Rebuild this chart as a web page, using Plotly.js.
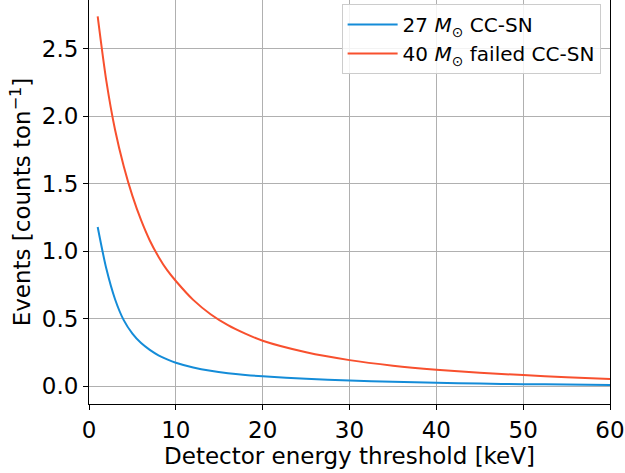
<!DOCTYPE html>
<html>
<head>
<meta charset="utf-8">
<script src="https://cdn.plot.ly/plotly-3.0.1.min.js"></script>
<style>html,body{margin:0;padding:0;background:#fff;}#chart{width:625px;height:473px;}</style>
</head>
<body>
<div id="chart"></div>
<script>
// Detector energy threshold [keV]
const thresholds = [1,2,3,4,5,6,7,8,9,10,12,14,16,18,20,25,30,35,40,45,50,55,60];
// 27 Msun CC-SN events [counts/ton]
const ccsn27 = [1.18,0.87,0.645,0.49,0.39,0.32,0.27,0.23,0.20,0.175,0.14,0.115,0.097,0.084,0.074,0.056,0.043,0.033,0.026,0.020,0.016,0.013,0.010];
// 40 Msun failed CC-SN events [counts/ton]
const failed40 = [2.74,2.26,1.90,1.63,1.41,1.23,1.08,0.96,0.86,0.78,0.64,0.534,0.453,0.39,0.337,0.252,0.194,0.153,0.123,0.100,0.083,0.067,0.055];
const seriesNames = ['27 <i>M</i><sub>⊙</sub> CC-SN', '40 <i>M</i><sub>⊙</sub> failed CC-SN'];
const yTicks = [0, 0.5, 1.0, 1.5, 2.0, 2.5];
const xTicks = [0, 10, 20, 30, 40, 50, 60];

const font = 'DejaVu Sans, sans-serif';
const traces = [
  {x: thresholds, y: ccsn27, name: seriesNames[0], mode: 'lines', line: {color: '#148cd8', width: 2, shape: 'spline', smoothing: 0.8}},
  {x: thresholds, y: failed40, name: seriesNames[1], mode: 'lines', line: {color: '#f8502e', width: 2, shape: 'spline', smoothing: 0.8}}
];
const axisCommon = {
  showline: true, linecolor: '#000', linewidth: 1, mirror: true,
  ticks: 'outside', ticklen: 5, tickwidth: 1, tickcolor: '#000',
  showgrid: true, gridcolor: '#b0b0b0', gridwidth: 1, zeroline: false,
  tickfont: {family: font, size: 23, color: '#000'}
};
const layout = {
  width: 625, height: 473,
  margin: {l: 89, r: 15, t: 0, b: 69},
  paper_bgcolor: '#fff', plot_bgcolor: '#fff',
  font: {family: font, color: '#000'},
  showlegend: true,
  xaxis: Object.assign({}, axisCommon, {
    range: [0, 60], tickvals: xTicks, ticktext: xTicks.map(String),
    title: {text: 'Detector energy threshold [keV]', font: {family: font, size: 23, color: '#000'}, standoff: 4}
  }),
  yaxis: Object.assign({}, axisCommon, {
    range: [-0.131, 2.861], tickvals: yTicks, ticktext: yTicks.map(v => v.toFixed(1)),
    title: {text: 'Events [counts ton<sup>−1</sup>]', font: {family: font, size: 23, color: '#000'}, standoff: 4}
  }),
  legend: {
    x: 0.982, y: 0.99, xanchor: 'right', yanchor: 'top',
    bgcolor: 'rgba(255,255,255,0.85)', bordercolor: '#cccccc', borderwidth: 1,
    itemwidth: 50,
    font: {family: font, size: 20, color: '#000'}
  }
};
Plotly.newPlot('chart', traces, layout, {staticPlot: true, displayModeBar: false});
</script>
</body>
</html>
